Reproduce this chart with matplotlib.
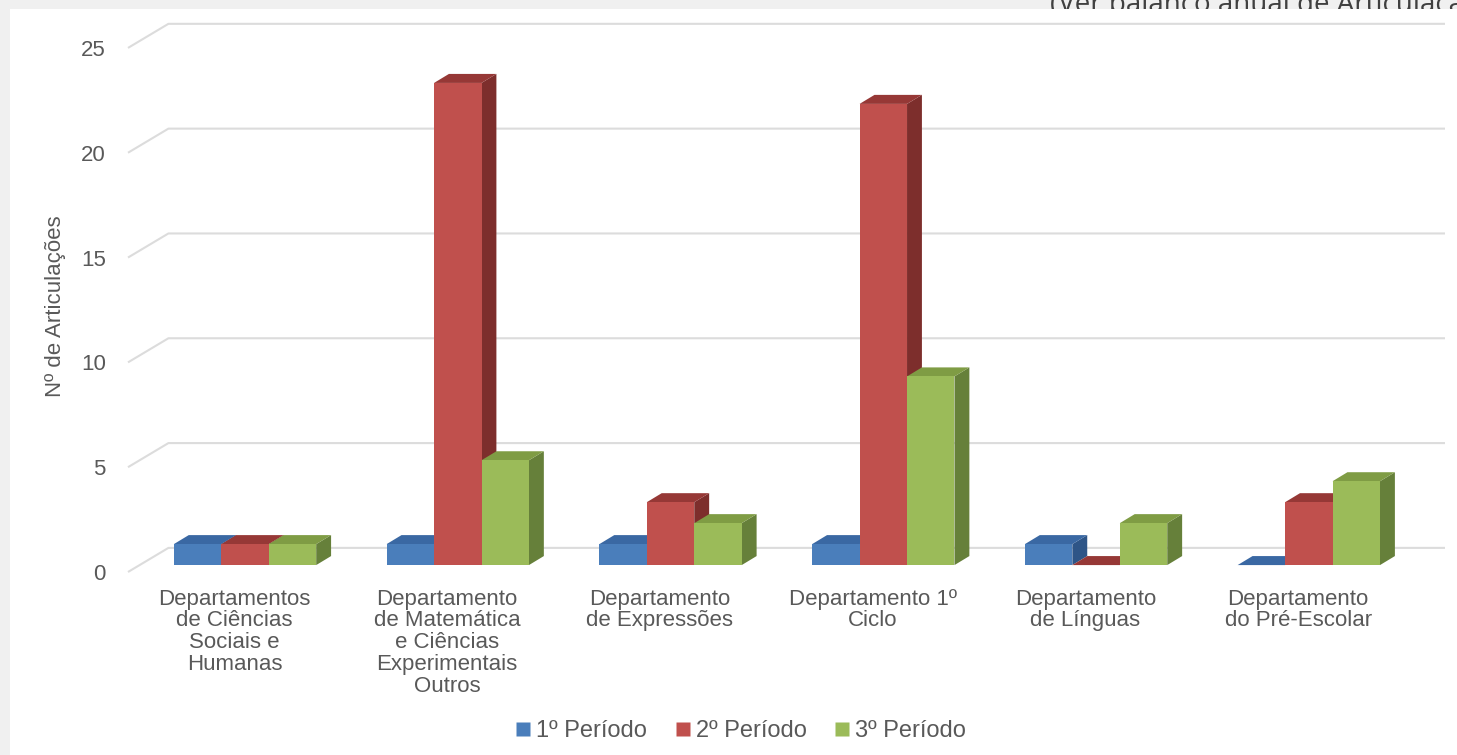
import numpy as np
import matplotlib
matplotlib.use('Agg')
import matplotlib.pyplot as plt
from matplotlib.patches import Polygon, Rectangle
from matplotlib.lines import Line2D

plt.rcParams['font.family'] = ['Liberation Sans', 'DejaVu Sans']

# data
categories = ["Departamentos\nde Ciências\nSociais e\nHumanas",
              "Departamento\nde Matemática\ne Ciências\nExperimentais\nOutros",
              "Departamento\nde Expressões",
              "Departamento 1º\nCiclo",
              "Departamento\nde Línguas",
              "Departamento\ndo Pré-Escolar"]
series = ["1º Período", "2º Período", "3º Período"]
periodo1 = [1, 1, 1, 1, 1, 0]
periodo2 = [1, 23, 3, 22, 0, 3]
periodo3 = [1, 5, 2, 9, 2, 4]
yticks = [0, 5, 10, 15, 20, 25]

# colours: front, side, top
front_cols = ['#4a7ebb', '#c0504d', '#9bbb59']
side_cols = ['#2e5587', '#7d2e2c', '#66803a']
top_cols = ['#3a68a3', '#963836', '#7f9c44']
txt_col = '#595959'
grid_col = '#dcdcdc'

# 3d look
bw = 0.223          # bar width (category units)
shift = 0.05        # bars sit slightly right of the label
base = 0.33         # bars stand a bit behind the floor front
ddx, ddy = 0.07, 0.43   # bar depth offset
wdx, wdy = 0.19, 1.15   # wall offset

W, H = 1457, 755
fig = plt.figure(figsize=(W / 100, H / 100), dpi=100, facecolor='#f0f0f0')
fig.patches.append(Rectangle((10 / W, 0), 1, 1 - 9 / H, transform=fig.transFigure,
                             facecolor='white', edgecolor='none', zorder=-1))
fig.text(1050 / W, 1 - 5 / H, "(Ver balanço anual de Articulação)", fontsize=20,
         family=['Open Sans', 'DejaVu Sans'], color='#404040', va='center', ha='left', zorder=-2)

ax = fig.add_axes([128 / W, 183 / H, 1317 / W, 566 / H])
ax.set_facecolor('none')
ax.set_xlim(-0.5, 5.5 + wdx)
ax.set_ylim(0, 27)
for s in ax.spines.values():
    s.set_visible(False)

# back wall gridlines with the diagonal floor-edge segment
x0, x1 = ax.get_xlim()
for v in yticks:
    ax.plot([x0, x0 + wdx, x1], [v, v + wdy, v + wdy], color=grid_col, lw=1.5,
            zorder=1, clip_on=False, solid_capstyle='butt')

x = np.arange(len(categories))
data = [periodo1, periodo2, periodo3]
z = 2
for i in range(len(categories)):
    for k in range(3):
        v = data[k][i]
        left = x[i] + shift + (k - 1.5) * bw
        right = left + bw
        top = base + v
        # side face
        ax.add_patch(Polygon([(right, base), (right + ddx, base + ddy),
                              (right + ddx, top + ddy), (right, top)],
                             closed=True, facecolor=side_cols[k], edgecolor='none', zorder=z))
        # top face
        ax.add_patch(Polygon([(left, top), (left + ddx, top + ddy),
                              (right + ddx, top + ddy), (right, top)],
                             closed=True, facecolor=top_cols[k], edgecolor='none', zorder=z + 1))
        # front face
        ax.bar(left, v, width=bw, bottom=base, align='edge', color=front_cols[k],
               edgecolor='none', zorder=z + 2)
        z += 3

ax.set_yticks(yticks)
ax.set_yticklabels([str(v) for v in yticks], fontsize=16, color=txt_col)
ax.set_xticks(x)
ax.set_xticklabels(categories, fontsize=16, color=txt_col, linespacing=1.05,
                   multialignment='center')
ax.tick_params(axis='y', length=0, pad=16)
ax.tick_params(axis='x', length=0, pad=12)
ax.set_ylabel("Nº de Articulações", fontsize=16, color=txt_col)
ax.yaxis.set_label_coords(-0.047, 0.47)

handles = [Line2D([0], [0], marker='s', linestyle='none', markersize=10,
                  markerfacecolor=c, markeredgecolor='none') for c in front_cols]
leg = fig.legend(handles, series, loc='center', bbox_to_anchor=(741 / W, 1 - 731 / H),
                 ncol=3, frameon=False, fontsize=17, handlelength=0.6, handletextpad=0.25,
                 columnspacing=1.2, labelcolor=txt_col)

fig.savefig('out.png', dpi=100, facecolor=fig.get_facecolor())
